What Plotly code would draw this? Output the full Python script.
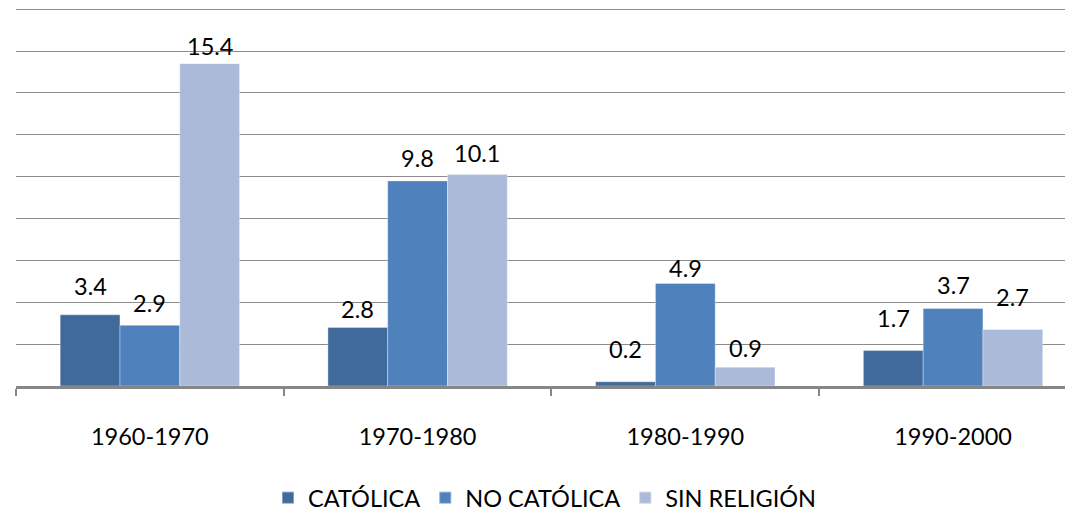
import plotly.graph_objects as go

categories = ["1960-1970", "1970-1980", "1980-1990", "1990-2000"]
series_names = ["CATÓLICA", "NO CATÓLICA", "SIN RELIGIÓN"]
catolica = [3.4, 2.8, 0.2, 1.7]
no_catolica = [2.9, 9.8, 4.9, 3.7]
sin_religion = [15.4, 10.1, 0.9, 2.7]

colors = ["#3F6A9B", "#4F81BD", "#AABAD8"]
# label offsets above bar tops (px), per series, per category
label_shift = [
    [29, 18, 33, 32],
    [22, 23, 15, 24],
    [18, 22, 19, 32],
]

values = [catolica, no_catolica, sin_religion]
fig = go.Figure()
for name, vals, col in zip(series_names, values, colors):
    fig.add_trace(go.Bar(
        x=categories, y=vals, name=name,
        marker=dict(color=col, line=dict(color="rgba(255,255,255,0.35)", width=1)),
        hoverinfo="skip",
    ))

font_family = "Lato, 'Open Sans', sans-serif"
fsize = 23.5
bar_w = 0.67 / 3
annotations = []
for si, (vals, shifts) in enumerate(zip(values, label_shift)):
    for ci, v in enumerate(vals):
        annotations.append(dict(
            x=ci + (si - 1) * bar_w, y=v, xref="x", yref="y",
            text=f"{v:.1f}", showarrow=False, yanchor="middle",
            yshift=shifts[ci], font=dict(size=fsize, color="#000000", family=font_family),
        ))

# the page body has an 8px default margin, so the figure is sized to fit the window
fig.update_layout(
    width=1065, height=505,
    margin=dict(l=8, r=0, t=0, b=127, autoexpand=False),
    paper_bgcolor="white", plot_bgcolor="white",
    barmode="group", bargap=0.33, bargroupgap=0,
    font=dict(family=font_family, size=fsize, color="#000000"),
    showlegend=True,
    legend=dict(orientation="h", x=0.5, xanchor="center", y=-0.296, yanchor="middle",
                font=dict(size=fsize, family=font_family), itemsizing="constant",
                traceorder="normal", itemclick=False, tracegroupgap=0),
    annotations=annotations,
)
fig.update_xaxes(
    type="category", range=[-0.5, 3.448], automargin=False,
    showline=True, linecolor="#868686", linewidth=2.5,
    ticks="outside", tickson="boundaries", ticklen=7, tickcolor="#868686", tickwidth=1.5,
    ticklabelstandoff=28, tickfont=dict(size=fsize), showgrid=False,
)
fig.update_yaxes(
    range=[0, 18.06], dtick=2, showticklabels=False, showline=False, automargin=False,
    showgrid=True, gridcolor="#8C8C8C", gridwidth=1.3, zeroline=False,
)
fig.write_html("out.html")
